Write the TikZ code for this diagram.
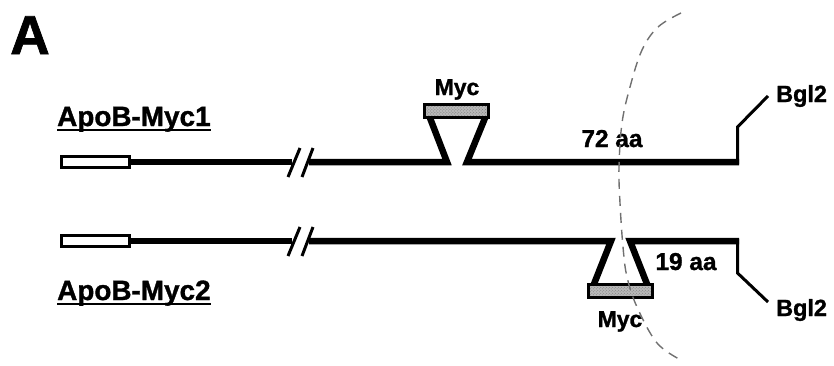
\documentclass[tikz,border=0pt]{standalone}
\usepackage{fontspec}
\setmainfont{Liberation Sans}[BoldFeatures={FakeBold=1.2}]
\usetikzlibrary{patterns}
\begin{document}
\begin{tikzpicture}[x=1bp,y=-1bp, line join=miter,
  gene/.style={line width=6.5bp},
  thinl/.style={line width=3bp},
  lbl/.style={font=\fontsize{24.5}{24.5}\selectfont\bfseries, inner sep=0pt, anchor=base},
  blbl/.style={font=\fontsize{23.5}{23.5}\selectfont\bfseries, inner sep=0pt, anchor=base west},
  mlbl/.style={font=\fontsize{23}{23}\selectfont\bfseries, inner sep=0pt, anchor=base},
  cname/.style={font=\fontsize{28}{28}\selectfont\bfseries, inner sep=0pt, anchor=base west},
  sigbox/.style={draw, line width=3bp, fill=white, minimum width=68bp, minimum height=11bp, inner sep=0pt},
  tagbox/.style={draw, line width=3bp, preaction={fill=gray!55}, pattern=crosshatch dots, pattern color=gray!95!black, minimum width=64bp, minimum height=13bp, inner sep=0pt},
  arcline/.style={draw=gray!60!black!80, line width=1.4bp, dash pattern=on 10bp off 7bp}]
\useasboundingbox (0,0) rectangle (834,365);

% title
\node[font=\fontsize{55}{55}\selectfont\bfseries, inner sep=0pt, anchor=base west] (A) at (10,54) {A};

% construct names
\node[cname] (n1) at (57,126) {ApoB-Myc1};
\draw[line width=2bp] ([yshift=-4bp]n1.base west) -- ([yshift=-4bp]n1.base east);
\node[cname] (n2) at (57,300) {ApoB-Myc2};
\draw[line width=2bp] ([yshift=-4bp]n2.base west) -- ([yshift=-4bp]n2.base east);

% ---- construct 1 ----
\node[sigbox] (ss1) at (95,162) {};
\coordinate (brk1a) at (292,162);
\coordinate (brk1b) at (309,162);
\coordinate (l1a) at (447,162);
\coordinate (t1a) at (430,118);
\coordinate (t1b) at (485,118);
\coordinate (l1b) at (467,162);
\coordinate (r1) at (739,162);
\coordinate (r1v) at (737.5,164);
\coordinate (r1u) at (737.5,127);
\coordinate (r1e) at (768,96);
\coordinate (s1a) at (288,177); \coordinate (s1b) at (300,148);
\coordinate (s1c) at (302,177); \coordinate (s1d) at (313,148);

\draw[gene] (ss1.east) -- (brk1a);
\draw[gene] (brk1b) -- (l1a) -- (t1a);
\draw[gene] (t1b) -- (l1b) -- (r1);
\draw[thinl] (r1v) -- (r1u) -- (r1e);
\draw[thinl] (s1a) -- (s1b);
\draw[thinl] (s1c) -- (s1d);
\node[tagbox] (myc1box) at (456.5,111) {};

% ---- construct 2 ----
\node[sigbox] (ss2) at (95,241) {};
\coordinate (brk2a) at (292,241);
\coordinate (brk2b) at (309,241);
\coordinate (l2a) at (611,241);
\coordinate (t2a) at (594,284);
\coordinate (t2b) at (647,284);
\coordinate (l2b) at (630,241);
\coordinate (r2) at (739,241);
\coordinate (r2v) at (737.5,239);
\coordinate (r2u) at (737.5,273);
\coordinate (r2e) at (768,302);
\coordinate (s2a) at (288,256); \coordinate (s2b) at (300,227);
\coordinate (s2c) at (302,256); \coordinate (s2d) at (313,227);

\draw[gene] (ss2.east) -- (brk2a);
\draw[gene] (brk2b) -- (l2a) -- (t2a);
\draw[gene] (t2b) -- (l2b) -- (r2);
\draw[thinl] (r2v) -- (r2u) -- (r2e);
\draw[thinl] (s2a) -- (s2b);
\draw[thinl] (s2c) -- (s2d);
\node[tagbox] (myc2box) at (620,290.5) {};

% labels
\node[mlbl] (myc1) at (457,95) {Myc};
\node[mlbl] (myc2) at (620,327) {Myc};
\node[lbl] (aa72) at (612,147) {72 aa};
\node[lbl] (aa19) at (686,270) {19 aa};
\node[blbl] (bgl1) at (776,102) {Bgl2};
\node[blbl] (bgl2) at (776,316) {Bgl2};

% dashed arc
\draw[arcline] plot[smooth, tension=0.6] coordinates {(681,13) (658,27) (642,50) (630,87) (622,123) (619,167) (620,203) (623,247) (627,277) (637,307) (657,343) (681,360)};
\end{tikzpicture}
\end{document}
